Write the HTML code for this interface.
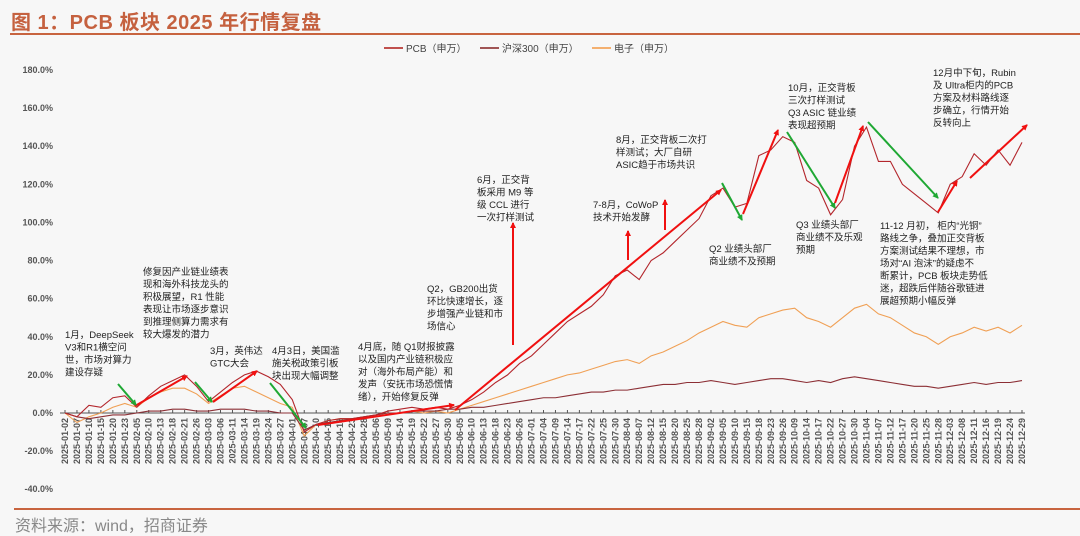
<!DOCTYPE html>
<html><head><meta charset="utf-8">
<style>
html,body{margin:0;padding:0;background:#f7f7f7;}
body{width:1080px;height:533px;overflow:hidden;position:relative;font-family:"Liberation Sans","Noto Sans CJK SC",sans-serif;}
#title{position:absolute;left:11px;top:6px;font-size:20px;font-weight:bold;color:#c5613f;letter-spacing:0.5px;}
#topline{position:absolute;left:10px;top:33px;width:1070px;height:2px;background:#c8643f;}
#botline{position:absolute;left:14px;top:508px;width:1066px;height:2px;background:#c8643f;}
#source{position:absolute;left:15px;top:512px;font-size:16px;color:#888;}
svg{position:absolute;left:0;top:0;}
</style></head>
<body>
<div id="title">图 1：PCB 板块 2025 年行情复盘</div>
<div id="topline"></div>
<svg id="chart" width="1080" height="533"></svg>
<div id="botline"></div>
<div id="source">资料来源：wind，招商证券</div>
<script>
const dates=["2025-01-02","2025-01-07","2025-01-10","2025-01-15","2025-01-20","2025-01-23","2025-02-05","2025-02-10","2025-02-13","2025-02-18","2025-02-21","2025-02-26","2025-03-03","2025-03-06","2025-03-11","2025-03-14","2025-03-19","2025-03-24","2025-03-27","2025-04-01","2025-04-07","2025-04-10","2025-04-15","2025-04-18","2025-04-23","2025-04-28","2025-05-06","2025-05-09","2025-05-14","2025-05-19","2025-05-22","2025-05-27","2025-05-30","2025-06-05","2025-06-10","2025-06-13","2025-06-18","2025-06-23","2025-06-26","2025-07-01","2025-07-04","2025-07-09","2025-07-14","2025-07-17","2025-07-22","2025-07-25","2025-07-30","2025-08-04","2025-08-07","2025-08-12","2025-08-15","2025-08-20","2025-08-25","2025-08-28","2025-09-02","2025-09-05","2025-09-10","2025-09-15","2025-09-18","2025-09-23","2025-09-26","2025-10-09","2025-10-14","2025-10-17","2025-10-22","2025-10-27","2025-10-30","2025-11-04","2025-11-07","2025-11-12","2025-11-17","2025-11-20","2025-11-25","2025-11-28","2025-12-03","2025-12-08","2025-12-11","2025-12-16","2025-12-19","2025-12-24","2025-12-29"];
const pcb=[0,-2,4,3,8,9,3,9,14,17,20,14,6,11,16,20,22,19,15,7,-10,-6,-4,-3,-3,-2,-1,1,2,3,2,3,2,4,7,11,16,20,26,30,36,42,48,52,56,62,72,75,70,80,84,90,96,102,114,118,108,110,135,138,145,142,122,118,104,112,140,150,132,132,120,115,110,105,120,124,136,130,138,130,142];
const hs300=[0,-2,-3,-2,-1,-1,0,1,1,2,2,1,1,2,2,2,1,1,0,0,-9,-6,-5,-4,-3,-2,-1,0,0,1,1,1,2,2,3,3,4,5,6,7,8,8,9,10,11,11,12,12,13,14,15,15,16,16,17,16,15,16,17,18,18,17,16,17,16,18,19,18,17,16,15,14,14,13,14,15,16,15,16,16,17];
const elec=[0,-5,-2,0,3,5,3,8,11,13,13,10,5,9,13,14,11,8,5,3,-12,-6,-4,-3,-3,-2,-1,0,0,1,0,1,0,2,4,6,8,10,12,14,16,18,20,21,23,25,27,28,26,30,32,35,38,42,45,48,46,45,50,52,54,55,50,48,45,50,55,57,52,50,46,42,40,36,40,42,45,43,45,42,46];
const yTicks=[180,160,140,120,100,80,60,40,20,0,-20,-40];

const svg=document.getElementById('chart');
const NS='http://www.w3.org/2000/svg';
const x0=65,x1=1022,y0=413,pxPer=1.906;
function xs(i){return x0+i*(x1-x0)/(dates.length-1);}
function ys(v){return y0-v*pxPer;}
function mk(t,a){const e=document.createElementNS(NS,t);for(const k in a)e.setAttribute(k,a[k]);svg.appendChild(e);return e;}

// y ticks
yTicks.forEach(v=>{
  const t=mk('text',{x:53,y:ys(v)+3,'text-anchor':'end','font-size':9,'font-weight':'bold',fill:'#555'});
  t.textContent=v.toFixed(1)+'%';
  
  
});
// zero axis
const ax=mk('line',{x1:60,y1:y0,x2:1025,y2:y0,stroke:'#555','stroke-width':1});


for(let i=0;i<dates.length;i++){
  const tk=mk('line',{x1:xs(i),y1:y0-3,x2:xs(i),y2:y0,stroke:'#555','stroke-width':1});
  
  
  const X=xs(i)+3,Y=y0+5;
  const t=mk('text',{x:X,y:Y,transform:`rotate(-90 ${X} ${Y})`,'text-anchor':'end','font-size':9,'font-weight':'bold',fill:'#555'});
  t.textContent=dates[i];
  
  
}
function series(arr,color,name,w){
  const p=mk('polyline',{points:arr.map((v,i)=>xs(i)+','+ys(v)).join(' '),fill:'none',stroke:color,'stroke-width':w});
  
  
}
series(elec,'#f0a055','electronics-line',1.1);
series(hs300,'#8c2f35','hs300-line',1.1);
series(pcb,'#b3262c','pcb-line',1.1);

// legend
const leg=[['PCB（申万）','#c0504d',384],['沪深300（申万）','#a05555',480],['电子（申万）','#f4b070',592]];
leg.forEach(l=>{
  const ln=mk('line',{x1:l[2],y1:48,x2:l[2]+19,y2:48,stroke:l[1],'stroke-width':2});
  
  
  const t=mk('text',{x:l[2]+22,y:52,'font-size':10,fill:'#444'});
  t.textContent=l[0];
  
  
});

// arrows
const defs=mk('defs',{});
function marker(id,c){const m=document.createElementNS(NS,'marker');m.setAttribute('id',id);m.setAttribute('markerWidth',6);m.setAttribute('markerHeight',6);m.setAttribute('refX',5);m.setAttribute('refY',3);m.setAttribute('orient','auto');m.setAttribute('markerUnits','userSpaceOnUse');m.innerHTML=`<path d="M0,0 L6,3 L0,6 z" fill="${c}"/>`;defs.appendChild(m);}
marker('ar','#f01010');marker('ag','#1fa834');
const arrows=[['r',135,406,187,376],['g',118,384,136,405],['g',195,382,212,402],['r',213,402,257,371],['g',270,383,306,428],['r',318,425,454,405],['r',455,410,721,190],['g',722,183,742,220],['r',743,214,778,130],['g',787,132,835,208],['r',835,203,863,126],['g',868,122,938,198],['r',938,212,957,181],['r',970,178,1027,125],['r',513,345,513,223],['r',628,260,628,231],['r',665,230,665,200]];
arrows.forEach(a=>{
  const c=a[0]=='r'?'#f01010':'#1fa834';
  const l=mk('line',{x1:a[1],y1:a[2],x2:a[3],y2:a[4],stroke:c,'stroke-width':2,'marker-end':a[0]=='r'?'url(#ar)':'url(#ag)'});
  
  
});

// annotations
const notes=[
 [65,338,['1月，DeepSeek','V3和R1横空问','世，市场对算力','建设存疑']],
 [143,275,['修复因产业链业绩表','现和海外科技龙头的','积极展望，R1 性能','表现让市场逐步意识','到推理侧算力需求有','较大爆发的潜力']],
 [210,354,['3月，英伟达','GTC大会']],
 [272,354,['4月3日，美国滥','施关税政策引板','块出现大幅调整']],
 [358,350,['4月底，随 Q1财报披露','以及国内产业链积极应','对（海外布局产能）和','发声（安抚市场恐慌情','绪），开始修复反弹']],
 [427,292,['Q2，GB200出货','环比快速增长，逐','步增强产业链和市','场信心']],
 [477,183,['6月，正交背','板采用 M9 等','级 CCL 进行','一次打样测试']],
 [593,208,['7-8月，CoWoP','技术开始发酵']],
 [616,143,['8月，正交背板二次打','样测试；大厂自研','ASIC趋于市场共识']],
 [788,91,['10月，正交背板','三次打样测试','Q3 ASIC 链业绩','表现超预期']],
 [933,76,['12月中下旬，Rubin','及 Ultra柜内的PCB','方案及材料路线逐','步确立，行情开始','反转向上']],
 [709,252,['Q2 业绩头部厂','商业绩不及预期']],
 [796,228,['Q3 业绩头部厂','商业绩不及乐观','预期']],
 [880,229,['11-12 月初， 柜内“光铜”','路线之争，叠加正交背板','方案测试结果不理想，市','场对“AI 泡沫”的疑虑不','断累计，PCB 板块走势低','迷，超跌后伴随谷歌链进','展超预期小幅反弹']]
];
notes.forEach(n=>{
  const t=mk('text',{x:n[0],y:n[1],'font-size':9.5,fill:'#222'});
  
  
  n[2].forEach((s,k)=>{const ts=document.createElementNS(NS,'tspan');ts.setAttribute('x',n[0]);ts.setAttribute('dy',k?12.5:0);ts.textContent=s;t.appendChild(ts);});
});
</script>
</body></html>
